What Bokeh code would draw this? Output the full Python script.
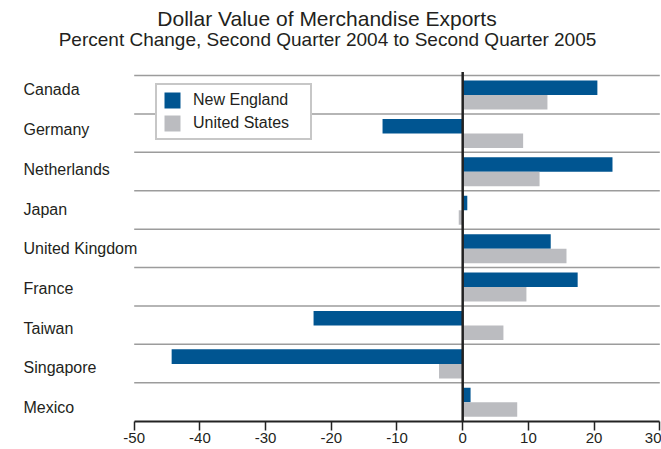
from bokeh.plotting import figure
from bokeh.models import ColumnDataSource, FixedTicker, Range1d, Label, LabelSet
from bokeh.core.properties import value
from bokeh.embed import file_html
from bokeh.resources import INLINE

# ---- data ----
countries = ["Canada", "Germany", "Netherlands", "Japan", "United Kingdom",
             "France", "Taiwan", "Singapore", "Mexico"]
new_england = [20.5, -12.2, 22.8, 0.7, 13.4, 17.5, -22.7, -44.3, 1.2]
united_states = [12.9, 9.2, 11.7, -0.6, 15.8, 9.7, 6.2, -3.6, 8.3]
series_names = ["New England", "United States"]
x_ticks = [-50, -40, -30, -20, -10, 0, 10, 20, 30]
title_line1 = "Dollar Value of Merchandise Exports"
title_line2 = "Percent Change, Second Quarter 2004 to Second Quarter 2005"

# ---- styling ----
FONT = "Liberation Sans"
TEXT = "#231f20"
NE_COLOR = "#005591"
US_COLOR = "#bbbcc0"
GRID = "#9c9c9c"

n = len(countries)
band_top = [n - i for i in range(n)]          # each country occupies one band
ne_y = [t - 0.319 for t in band_top]
us_y = [t - 0.697 for t in band_top]
LABEL_TOP, LABEL_STEP = 8.623, 1.0336         # label rows are spaced slightly wider than bands
label_y = [LABEL_TOP - LABEL_STEP * i for i in range(n)]
BAR_H = 0.378

src = ColumnDataSource(dict(country=countries, ne=new_england, us=united_states,
                            ne_y=ne_y, us_y=us_y, label_y=label_y))
sep = ColumnDataSource(dict(x0=[x_ticks[0]] * n, x1=[x_ticks[-1]] * n,
                            y=[float(k) for k in range(1, n + 1)]))

p = figure(width=661, height=449,
           x_range=Range1d(-70.35, 30.26),
           y_range=Range1d(-0.008, 10.953),
           output_backend="svg", toolbar_location=None,
           y_axis_location=None,
           min_border_left=0, min_border_right=0,
           min_border_top=0, min_border_bottom=28)
p.outline_line_color = None
p.background_fill_color = "white"
p.border_fill_color = "white"
p.xgrid.grid_line_color = None
p.ygrid.grid_line_color = None

# separators between countries
p.segment(x0="x0", x1="x1", y0="y", y1="y", source=sep,
          line_color=GRID, line_width=1.5)

# bars
p.hbar(y="ne_y", left=0, right="ne", height=BAR_H, source=src,
       fill_color=NE_COLOR, line_color=None, legend_label=series_names[0])
p.hbar(y="us_y", left=0, right="us", height=BAR_H, source=src,
       fill_color=US_COLOR, line_color=None, legend_label=series_names[1])

# zero line
p.segment(x0=[0], y0=[0], x1=[0], y1=[n + 0.09], line_color="#222222", line_width=2.5)

# x axis
ax = p.xaxis[0]
ax.bounds = (x_ticks[0], x_ticks[-1])
ax.ticker = FixedTicker(ticks=x_ticks)
ax.major_label_overrides = {t: str(t) for t in x_ticks}
ax.axis_line_color = "#222222"
ax.axis_line_width = 2
ax.major_tick_line_color = "#222222"
ax.major_tick_line_width = 1.5
ax.major_tick_in = 0
ax.major_tick_out = 9
ax.minor_tick_line_color = None
ax.major_label_standoff = 2
ax.major_label_text_font = FONT
ax.major_label_text_font_size = "15px"
ax.major_label_text_color = TEXT

# country labels
labels = LabelSet(x=23, y="label_y", x_units="screen", text="country", source=src,
                  text_align="left", text_baseline="middle",
                  text_font=value(FONT), text_font_size="16px", text_color=TEXT)
p.add_layout(labels)

# titles
p.add_layout(Label(x=326.5, y=403, x_units="screen", y_units="screen", text=title_line1,
                   text_align="center", text_baseline="alphabetic",
                   text_font=FONT, text_font_size="21px", text_color=TEXT))
p.add_layout(Label(x=327, y=382, x_units="screen", y_units="screen", text=title_line2,
                   text_align="center", text_baseline="alphabetic",
                   text_font=FONT, text_font_size="19px", text_color=TEXT))

# legend
lg = p.legend[0]
lg.location = (155, 281)
lg.margin = 0
lg.padding = 5
lg.spacing = 3
lg.glyph_width = 20
lg.glyph_height = 20
lg.label_height = 20
lg.label_width = 112
lg.label_standoff = 11
lg.label_text_font = FONT
lg.label_text_font_size = "16px"
lg.label_text_color = TEXT
lg.border_line_color = "#8f8f8f"
lg.border_line_width = 2
lg.background_fill_color = "white"
lg.background_fill_alpha = 1.0

open("out.html", "w").write(file_html(p, INLINE))
